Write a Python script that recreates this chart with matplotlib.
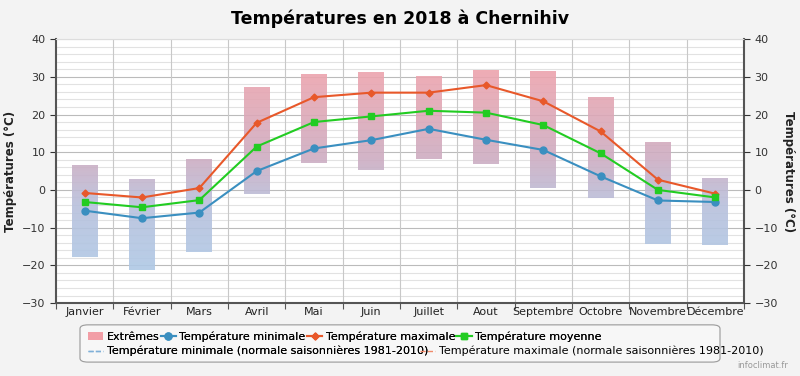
import numpy as np
import matplotlib
matplotlib.use("Agg")
import matplotlib.pyplot as plt
from matplotlib.colors import LinearSegmentedColormap
from matplotlib.lines import Line2D
from matplotlib.patches import Patch, FancyBboxPatch

months = ["Janvier", "Février", "Mars", "Avril", "Mai", "Juin", "Juillet",
          "Aout", "Septembre", "Octobre", "Novembre", "Décembre"]
t_max = [-0.8, -2.0, 0.5, 17.8, 24.6, 25.8, 25.8, 27.8, 23.5, 15.5, 2.7, -1.0]
t_min = [-5.5, -7.5, -6.0, 5.0, 11.0, 13.2, 16.2, 13.3, 10.6, 3.6, -2.8, -3.2]
t_moy = [-3.2, -4.6, -2.7, 11.5, 18.0, 19.5, 21.0, 20.5, 17.2, 9.7, 0.0, -2.0]
ext_hi = [6.4, 2.8, 8.0, 27.0, 30.6, 31.0, 30.2, 31.8, 31.4, 24.5, 12.5, 3.0]
ext_lo = [-17.8, -21.3, -16.4, -1.2, 7.2, 5.2, 8.2, 7.0, 0.4, -2.1, -14.4, -14.6]

c_max = "#e8582a"
c_min = "#3a8fc0"
c_moy = "#22cc22"

fig = plt.figure(figsize=(8, 3.76), dpi=100, facecolor="#f3f3f3")
ax = fig.add_axes([0.07, 0.194, 0.86, 0.702])
ax.set_facecolor("white")

x = np.arange(len(months))

# grid
for v in np.arange(-30, 41, 2):
    ax.axhline(v, color="#bbbbbb" if v % 10 == 0 else "#e2e2e2", lw=0.8, zorder=0)
for b in np.arange(0.5, len(months) - 0.5, 1):
    ax.axvline(b, color="#c8c8c8", lw=0.8, zorder=0)

# extremes bars with vertical colour gradient
cmap = LinearSegmentedColormap.from_list(
    "ext", [(0.0, "#adcbe8"), (0.35, "#b8c0dc"), (0.55, "#cdadc2"), (1.0, "#f2a2aa")])
grad = np.linspace(-25, 35, 256).reshape(-1, 1)
bw = 0.45
for i in range(len(months)):
    lo, hi = ext_lo[i], ext_hi[i]
    sub = grad[(grad[:, 0] >= lo) & (grad[:, 0] <= hi)]
    ax.imshow(sub, cmap=cmap, vmin=-25, vmax=35, origin="lower", aspect="auto",
              extent=(x[i] - bw / 2, x[i] + bw / 2, lo, hi), alpha=0.9, zorder=1)
ax.set_xlim(-0.5, len(months) - 0.5)
ax.set_ylim(-30, 40)

ax.plot(x, t_min, color=c_min, lw=1.5, marker="o", ms=5, zorder=3)
ax.plot(x, t_max, color=c_max, lw=1.5, marker="D", ms=3.5, zorder=3)
ax.plot(x, t_moy, color=c_moy, lw=1.5, marker="s", ms=5, zorder=3)

# axes styling
ax.spines["top"].set_color("#dddddd")
for s in ["left", "bottom", "right"]:
    ax.spines[s].set_color("#555555")
    ax.spines[s].set_linewidth(1.5)

ax.set_yticks(np.arange(-30, 41, 10))
ax.tick_params(axis="y", labelsize=8, colors="#333333", length=4, direction="out")
ax.set_xticks(np.arange(-0.5, len(months), 1))
ax.set_xticklabels([])
ax.set_xticks(x, minor=True)
ax.set_xticklabels(months, minor=True)
ax.tick_params(axis="x", which="major", length=4, color="#555555")
ax.tick_params(axis="x", which="minor", length=0, labelsize=8, colors="#222222", pad=3)
ax.set_ylabel("Températures (°C)", fontsize=8.5, fontweight="bold", color="#222222")

ax2 = ax.twinx()
ax2.set_ylim(-30, 40)
ax2.set_yticks(np.arange(-30, 41, 10))
ax2.tick_params(axis="y", labelsize=8, colors="#333333", length=4)
ax2.set_ylabel("Températures (°C)", fontsize=8.5, fontweight="bold", color="#222222",
               rotation=270, labelpad=12)
for s in ax2.spines.values():
    s.set_visible(False)

fig.text(0.5, 0.95, "Températures en 2018 à Chernihiv", ha="center", va="center",
         fontsize=12.5, fontweight="bold")

# legend box
box = FancyBboxPatch((0.1, 0.037), 0.8, 0.099, boxstyle="round,pad=0,rounding_size=0.01",
                     transform=fig.transFigure, facecolor="#f7f7f7", edgecolor="#999999",
                     lw=0.8, zorder=0)
fig.patches.append(box)

row1 = [Patch(facecolor="#f29ea6", edgecolor="none"),
        Line2D([], [], color=c_min, marker="o", ms=5, lw=1.5),
        Line2D([], [], color=c_max, marker="D", ms=3.5, lw=1.5),
        Line2D([], [], color=c_moy, marker="s", ms=5, lw=1.5)]
lab1 = ["Extrêmes", "Température minimale", "Température maximale", "Température moyenne"]
leg1 = fig.legend(row1, lab1, loc="center left", bbox_to_anchor=(0.1, 0.105), ncol=4,
                  frameon=False, fontsize=8, handlelength=1.4, handletextpad=0.3,
                  columnspacing=0.1, borderpad=0.2)
fig.add_artist(leg1)
leg2 = fig.legend([Line2D([], [], color="#7fb0d8", lw=1, ls="--")],
                  ["Température minimale (normale saisonnières 1981-2010)"],
                  loc="center left", bbox_to_anchor=(0.1, 0.066), frameon=False,
                  fontsize=8, handlelength=1.4, handletextpad=0.3, borderpad=0.2)
fig.add_artist(leg2)
fig.legend([Line2D([], [], color="#f08a6a", lw=1, ls="--")],
           ["Température maximale (normale saisonnières 1981-2010)"],
           loc="center left", bbox_to_anchor=(0.515, 0.066), frameon=False,
           fontsize=8, handlelength=1.4, handletextpad=0.3, borderpad=0.2)

fig.text(0.985, 0.027, "infoclimat.fr", ha="right", va="center", fontsize=6, color="#999999")

fig.savefig("out.png", dpi=100, facecolor=fig.get_facecolor())
